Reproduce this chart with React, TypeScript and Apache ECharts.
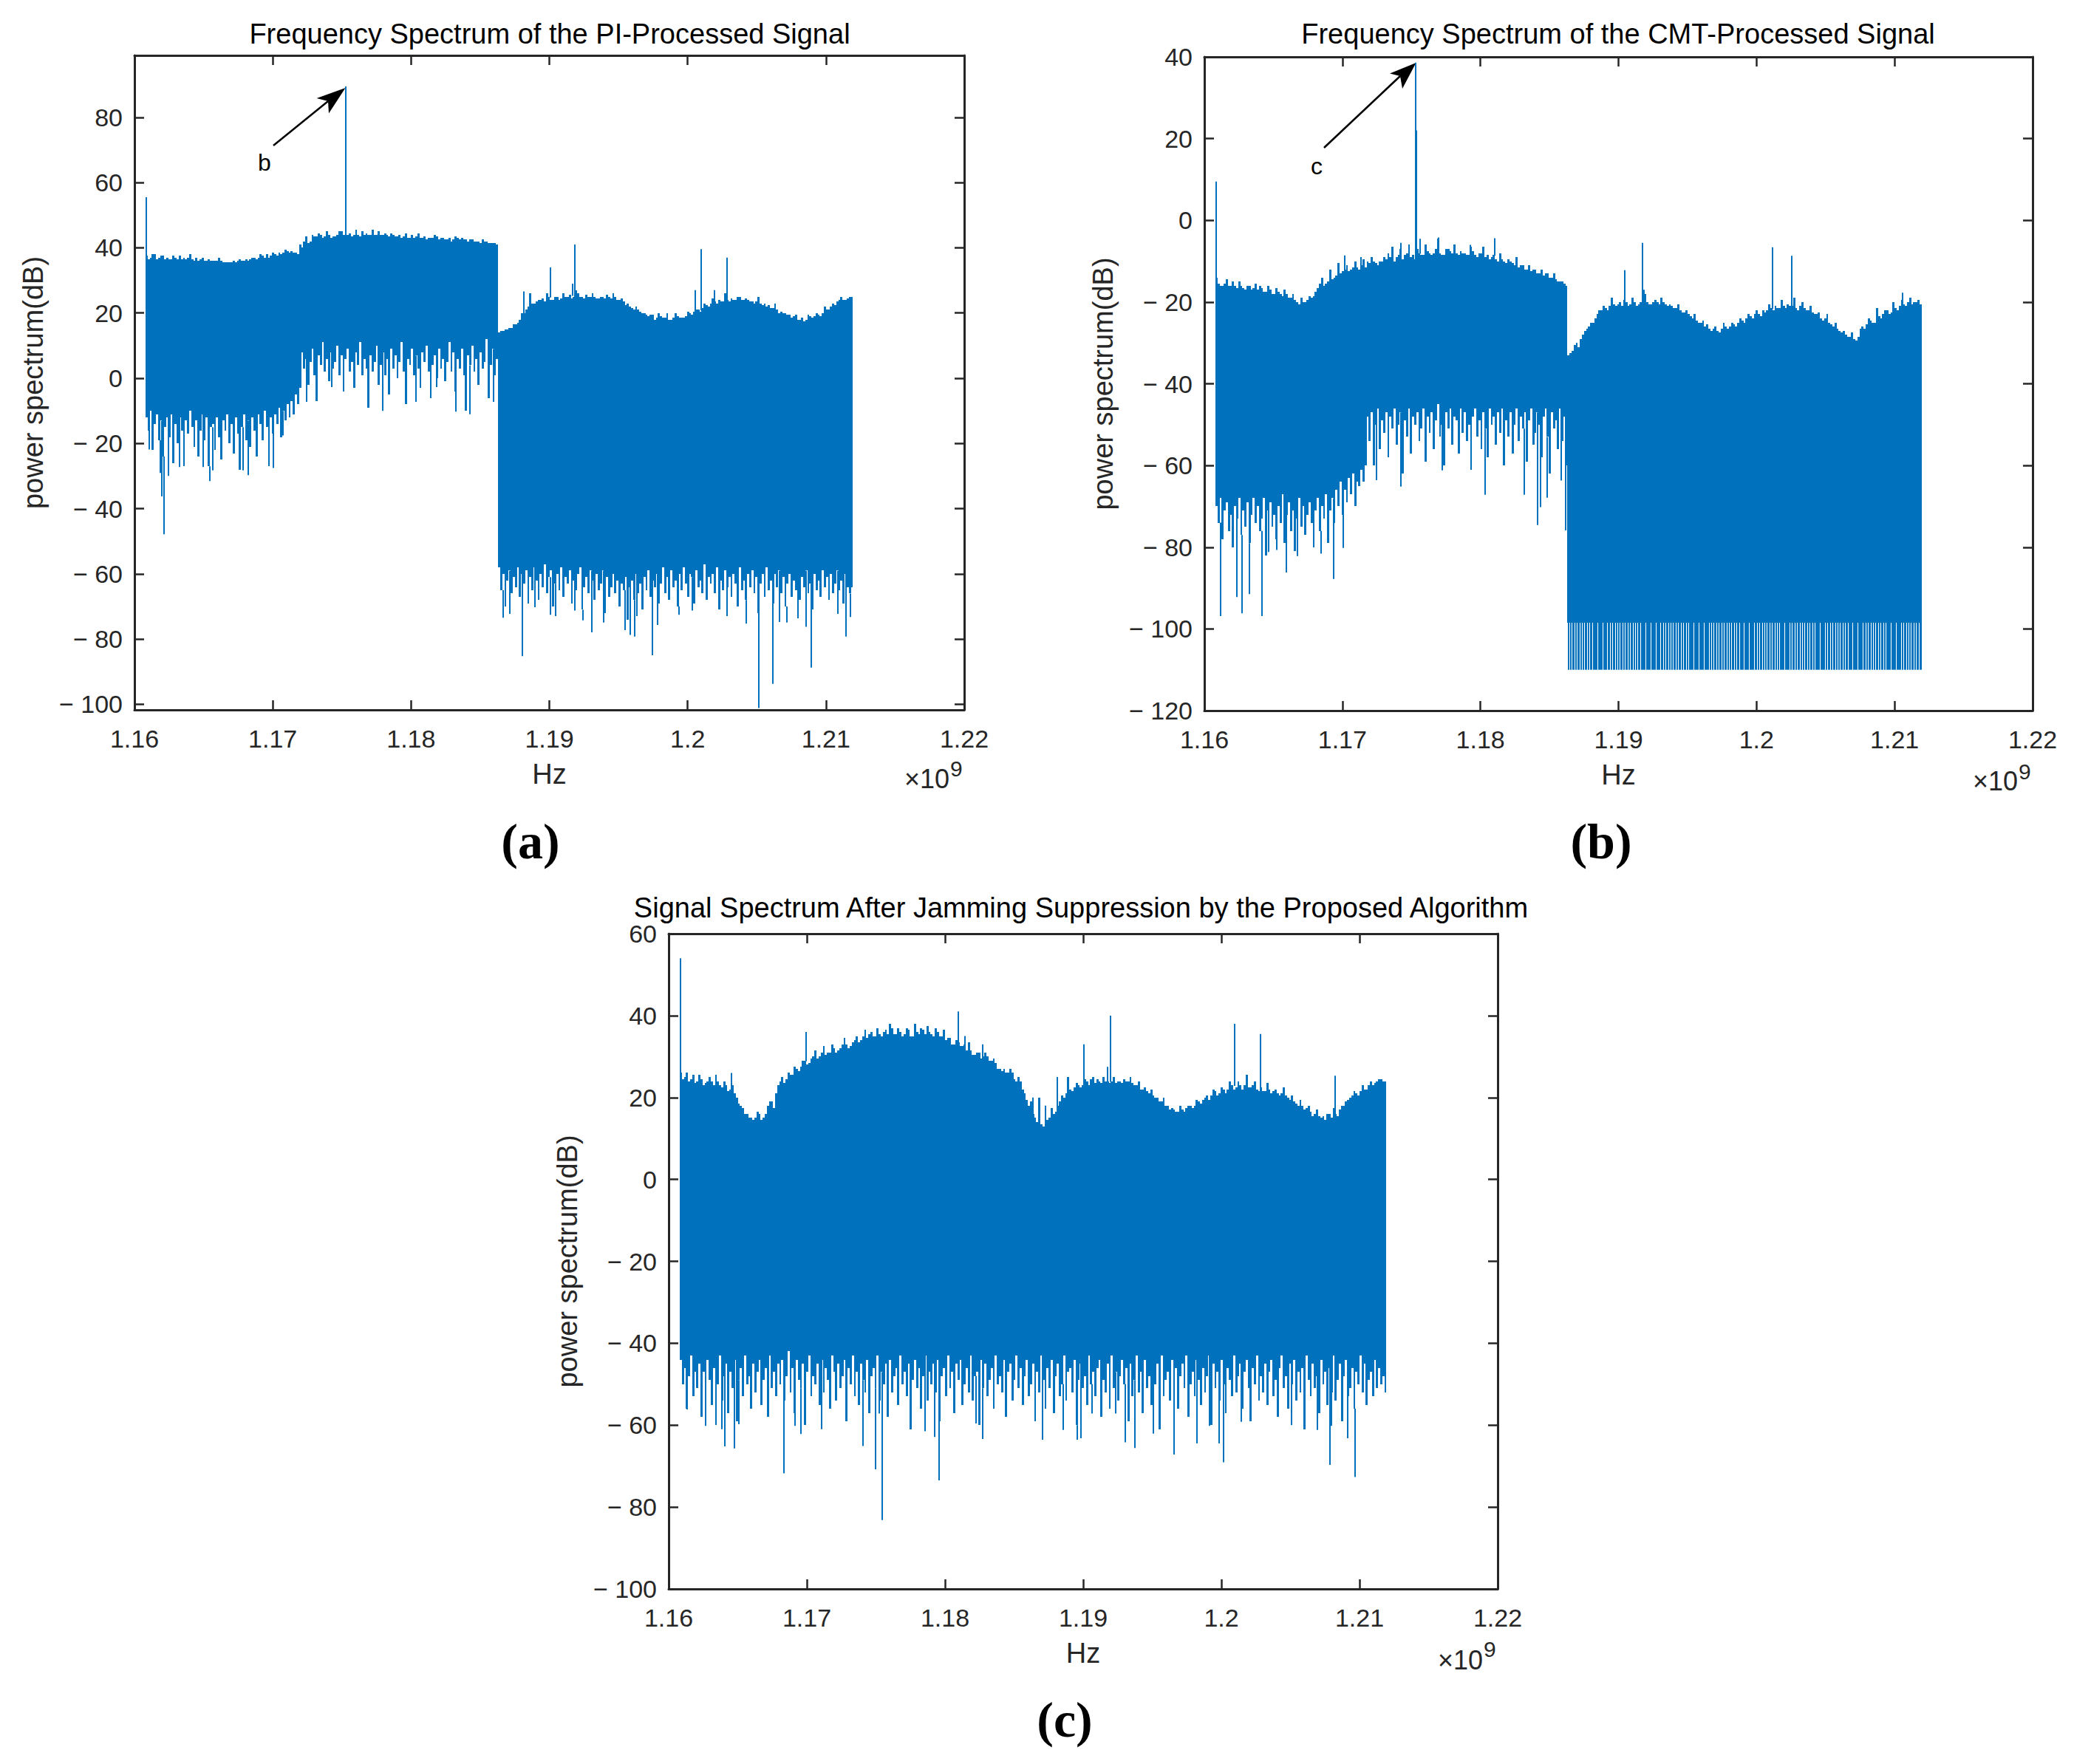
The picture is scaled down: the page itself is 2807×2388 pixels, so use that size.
import React, { useEffect, useRef } from "react";
import * as echarts from "echarts";

const BLUE = "#0072BD";
const INK = "#262626";
const SANS = "Liberation Sans";
const START = 1160.8; // MHz, left edge of the trace
const HI_STEP = 0.3;
const LO_STEP = 0.15;

const xTicks = [1.16e9, 1.17e9, 1.18e9, 1.19e9, 1.2e9, 1.21e9, 1.22e9];
const yTicksA = [-100, -80, -60, -40, -20, 0, 20, 40, 60, 80];
const yTicksB = [-120, -100, -80, -60, -40, -20, 0, 20, 40];
const yTicksC = [-100, -80, -60, -40, -20, 0, 20, 40, 60];

const hiA = [
  37.5,37,38,37,37.5,37,36.5,37,37.5,37,
  37,36.5,37,36.5,36,36.5,36,36,36,35.5,
  35.5,36,36,36,36.5,36.5,37,37,37.5,38,
  37.5,38,38.5,38.5,39,39,38.5,41,42,41.5,
  44,43.5,44,43.5,44,43.5,44,45,44,44.5,
  44,44,45,44.5,44,44,45,44,44,44.5,
  43.5,44,43.5,43,44,43.5,43,43.5,43,43,
  43.5,43,42.5,43,42.5,43,43,42.5,42.5,42,
  42,42.5,42,41.5,41.5,
  14,14.5,15,15.5,16.5,18,20,22,23,23.5,
  24,23.5,25,24,25,24.5,25,25.5,25,26,
  25,25.5,25,25,24.5,25,25.5,24.5,25,24,
  23.5,23,21.5,22,20.5,20,19,19.5,18.5,19,
  18.5,18,18.5,19,18.5,19,20,20.5,21,21.5,
  22.5,23,23.5,24,23.5,24,24.5,24,25,24,
  24,23.5,23.5,23,23,22.5,21.5,21,20.5,20,
  19.5,19,18,18.5,18,19,19,19.5,20,21,
  22,22.5,24,24,24.5,25,
];
const hiMidA = [
  36.5,38,36.5,37.5,36.5,36.5,37.5,36.5,36.5,36.5,
  38,36,36,37,36,36,36,37,35.5,35.5,
  35.5,35.5,36.5,36,36,37,36.5,38,37,37,
  38.5,37.5,38,39.5,38.5,38.5,38,40,43.5,42,
  43.5,44.5,43,45,43,43.5,45,44,44,43.5,
  45.5,43.5,44,44,45.5,44,44,44.5,43.5,44,
  43.5,43,44.5,43,43,44.5,43,42.5,43,44,
  42.5,43,42.5,42,43.5,42.5,42.5,42,42.5,42,
  41.5,42,41.5,41.5,41,
  14.5,15,15.5,16.5,17,20,21,26,23,24,
  24.5,26,24,25,24,26,25,24.5,27,25,
  24.5,25,26,24.5,25,24.5,25,26,24,24.5,
  22.5,22,21,21,20,19.5,19.5,18,20,18.5,
  20,18,20,18.5,18.5,20.5,19.5,21,20.5,23,
  22,24.5,23,23.5,26,23.5,24,25,24,24.5,
  23.5,23,25,22.5,22,21.5,23,20,20,19.5,
  18.5,19.5,18,17.5,19.5,18.5,20,19,22,21,
  23,23.5,25,24,25,
];
const loA = [
  -12,-16,-10,-22,-14,-11,-19,-13,-24,-15,
  -12,-18,-11,-26,-14,-20,-12,-16,-27,-13,
  -17,-10,-15,-21,-13,-24,-16,-11,-19,-12,
  -27,-15,-14,-22,-12,-18,-25,-13,-16,-11,
  -20,-14,-23,-12,-17,-28,-15,-11,-19,-13,
  -21,-12,-16,-24,-11,-14,-19,-10,-15,-27,
  -12,-17,-11,-14,-9,-18,-10,-13,-8,-12,
  -7,-11,-5,-8,-3,
  8,3,6,-2,5,9,1,-7,7,4,
  11,2,6,-1,8,3,5,10,1,7,
  -4,6,9,2,5,-3,8,4,11,1,
  6,3,-9,7,2,5,10,-2,4,8,
  1,6,-5,9,3,7,0,5,11,2,
  -8,6,4,9,1,7,3,-3,8,5,
  10,2,-6,4,7,0,9,3,6,-1,
  5,11,2,8,-4,6,3,9,1,-10,
  7,4,10,2,6,-2,8,3,5,12,
  -6,4,9,1,6,
  -58,-65,-60,-70,-62,-59,-66,-61,-64,-58,
  -67,-60,-63,-59,-69,-61,-65,-58,-62,-68,
  -60,-64,-57,-66,-61,-59,-70,-63,-60,-65,
  -58,-67,-61,-63,-59,-69,-62,-65,-60,-58,
  -71,-64,-61,-66,-59,-62,-68,-60,-65,-63,
  -59,-72,-61,-67,-64,-60,-66,-62,-70,-63,
  -65,-61,-74,-64,-62,-68,-60,-66,-63,-71,
  -61,-65,-59,-67,-62,-64,-60,-69,-63,-58,
  -66,-61,-68,-59,-64,-62,-70,-60,-65,-58,
  -63,-67,-60,-61,-69,-59,-64,-62,-66,-57,
  -68,-61,-63,-60,-66,-58,-71,-62,-65,-59,
  -64,-61,-67,-60,-63,-70,-58,-65,-62,-68,
  -60,-64,-59,-66,-61,-72,-63,-60,-67,-58,
  -65,-62,-69,-60,-64,-59,-66,-61,-70,-63,
  -60,-67,-62,-65,-58,-68,-61,-64,-59,-66,
  -63,-71,-60,-65,-62,-67,-59,-64,-61,-68,
  -60,-66,-63,-59,-65,-62,-69,-60,-64,-66,-64,
];
const upSpikesA = [[1160.8,55.5],[1175.25,89.5],[1188.1,26.6],[1190,34],[1191.65,29],[1191.8,41],[1200.5,27],[1200.95,39.6],[1201.9,27],[1202.8,37]];
const downSpikesA = [
  [1161,-21.6],[1161.8,-28.8],[1161.9,-36],[1162.1,-47.6],[1162.4,-29.7],[1163.2,-27],[1164.9,-27],[1165.4,-31.3],[1165.6,-28],[1167.8,-28],[1168.2,-29.5],[1170,-27.3],[1170.7,-17.3],
  [1172.4,-7],[1173.1,-5.7],[1174.2,-2.5],[1177.9,-9.8],[1180.3,-7],[1181.8,-2.5],[1183.2,-10],[1184.2,-10.8],[1185.9,-7],
  [1186.6,-73.2],[1187.1,-72],[1188,-85],[1188.9,-70],[1190,-72.3],[1190.4,-72.7],[1191.8,-71],[1192.4,-74],[1193,-77.7],[1193.9,-74.7],[1195.4,-77],[1195.8,-78.5],[1196.1,-79],[1196.3,-72.7],[1197.4,-84.7],[1197.8,-75.4],[1199.3,-72.3],[1200.3,-71],[1202.8,-72.7],[1204.2,-75],[1205.1,-100.9],[1206.1,-93.5],[1206.6,-74.5],[1207.1,-74.7],[1207.9,-73.4],[1208.5,-76],[1208.9,-88.5],[1210.8,-72],[1211.4,-79],[1211.7,-73],
];

const hiB = [
  -14,-16,-15.5,-16,-15,-16.5,-16,-17,-16,-16.5,
  -17,-16.5,-17.5,-17,-18,-17.5,-18.5,-18,-19,-19.5,
  -20.5,-20,-19.5,-19,-17.5,-15.5,-16,-15,-14.5,-13.5,
  -13,-12,-12.5,-11.5,-11.5,-11,-11.5,-10.5,-10,-11,
  -10,-9.5,-9,-10,-8.5,-9.5,-8,-9,-9.5,-8,
  -8.5,-7.5,-8.5,-7,-8,-8.5,-7,-8,-8,-7.5,
  -8,-8.5,-7.5,-9,-8,-9,-9.5,-8.5,-10,-9.5,
  -10.5,-10,-11,-11.5,-11,-12,-12.5,-12,-13,-13.5,
  -13,-14,-14.5,-15,-15.5,
  -33,-32,-30,-29,-27,-26,-25,-23,-22,-21.5,
  -21,-20.5,-20.5,-21,-20,-20.5,-20,-20.5,-19.5,-20,
  -20.5,-19.5,-20.5,-20,-21,-21,-21.5,-22,-22.5,-23,
  -24,-24.5,-25,-26,-26.5,-26.5,-27,-26.5,-26,-26,
  -25.5,-25,-24.5,-24,-23.5,-23,-23,-22,-22,-21.5,
  -21,-21.5,-21,-20.5,-21,-21.5,-21,-21.5,-22,-22.5,
  -23,-24,-24,-25,-26,-26.5,-27.5,-28,-28.5,-29,
  -28.5,-26,-25.5,-24.5,-25,-23.5,-23,-22,-22.5,-21.5,
  -21,-20.5,-20,-20.5,-20,-20.5,
];
const hiMidB = [
  -15.5,-16,-14.5,-16,-16,-15,-16.5,-16,-17,-15.5,
  -16,-17.5,-16,-18,-16.5,-18,-17,-19,-18,-20,
  -19,-20,-18.5,-18.5,-16.5,-14,-15.5,-12,-14,-10.5,
  -12.5,-11,-12,-10,-12,-9.5,-10,-9,-10.5,-10,
  -9,-8,-6.5,-9,-7,-8.5,-6,-8.5,-7,-8.5,
  -6,-8,-8,-4.5,-8.5,-7,-7.5,-6,-8.5,-8,
  -8.5,-6.5,-8.5,-8,-6.5,-8.5,-9,-9.5,-8,-10,
  -9.5,-10.5,-9,-11,-12,-11,-12,-13,-12,-13,
  -14,-13,-15,-15,-16,
  -32.5,-30.5,-31,-28,-26.5,-25,-24,-22,-21,-22,
  -19,-21,-20,-19.5,-21,-19,-21,-20,-18,-20.5,
  -20,-20,-19,-20.5,-20.5,-21.5,-20.5,-22.5,-22,-23.5,
  -23,-25,-24.5,-25.5,-27,-26,-27.5,-25,-26.5,-25,
  -26,-24,-25,-23,-24,-22,-23.5,-22.5,-20.5,-22,
  -21.5,-19.5,-21.5,-21,-19,-22,-20,-22,-21,-23,
  -22.5,-24.5,-23,-25.5,-25,-27,-27,-28.5,-27.5,-29.5,
  -26.5,-26.5,-24,-25,-21.5,-24,-22,-23,-20,-22,
  -19.5,-21,-19,-20,-19.5,
];
const loBLeft = [
  -70,-74,-68,-78,-71,-69,-76,-72,-80,-70,
  -73,-68,-77,-71,-75,-69,-79,-72,-68,-74,
  -70,-76,-73,-68,-82,-71,-69,-75,-72,-78,
  -70,-74,-67,-79,-72,-69,-76,-71,-81,-73,
  -68,-75,-70,-77,-72,-69,-74,-80,-71,-68,
  -76,-70,-73,-67,-79,-71,-68,-74,-66,-70,
  -64,-72,-66,-69,-63,-67,-62,-70,-64,-65,
  -61,-64,-60,
  -48,-54,-47,-60,-50,-46,-56,-49,-52,-47,
  -58,-48,-51,-46,-55,-50,-47,-62,-49,-53,
  -46,-57,-48,-50,-47,-54,-51,-46,-59,-48,
  -52,-47,-56,-49,-45,-53,-50,-60,-47,-51,
  -46,-55,-48,-49,-57,-46,-52,-47,-54,-50,
  -61,-48,-46,-53,-49,-56,-47,-51,-58,-46,
  -50,-48,-55,-47,-52,-46,-60,-49,-53,-47,
  -57,-50,-46,-54,-48,-51,-47,-59,-49,-46,
  -55,-52,-47,-50,-58,-48,-46,-53,-62,-47,
  -51,-49,-56,-46,-54,-48,-60,
];
const combTop = -98.5;
const combFloor = -110;
const combGaps = [1186.32,1186.50,1186.68,1186.87,1187.05,1187.23,1187.41,1187.59,1187.78,1187.96,1188.14,1188.51,1188.88,1189.25,1189.43,1189.62,1189.80,1189.98,1190.16,1190.35,1190.53,1190.71,1190.89,1191.08,1191.26,1191.44,1191.62,1191.99,1192.36,1192.73,1193.10,1193.28,1193.47,1193.65,1193.83,1194.01,1194.20,1194.38,1194.56,1194.74,1194.93,1195.11,1195.48,1195.85,1196.22,1196.59,1196.77,1196.95,1197.14,1197.32,1197.50,1197.68,1197.87,1198.05,1198.23,1198.41,1198.60,1198.78,1199.15,1199.52,1199.89,1200.07,1200.25,1200.44,1200.62,1200.80,1200.98,1201.17,1201.35,1201.53,1201.71,1202.08,1202.45,1202.63,1202.81,1203.00,1203.18,1203.36,1203.54,1203.73,1203.91,1204.09,1204.27,1204.64,1205.01,1205.19,1205.38,1205.56,1205.74,1205.92,1206.11,1206.29,1206.47,1206.65,1207.02,1207.39,1207.76,1207.94,1208.13,1208.31,1208.49,1208.67,1208.86,1209.04,1209.22,1209.40,1209.77,1210.14,1210.51,1210.69,1210.88,1211.06,1211.24,1211.42,1211.61,1211.79,1212.0];
const upSpikesB = [[1160.8,9.5],[1170.1,-8.6],[1171.3,-9],[1174.2,-5.5],[1175.25,38.6],[1175.3,22],[1175.55,-4.5],[1176.9,-4.2],[1179.2,-6],[1181,-4.4],[1190.4,-12.2],[1191.7,-5.5],[1191.8,-17],[1201.1,-6.6],[1202.5,-8.7],[1210.5,-17.7]];
const downSpikesB = [
  [1161.1,-96.7],[1162.3,-92],[1162.7,-96],[1163.2,-91.3],[1164.1,-96.7],[1164.6,-81],[1165.2,-80.5],[1165.9,-86],[1166.7,-82],[1168.4,-81.4],[1169.3,-87.6],[1170,-80],
  [1172.4,-63.4],[1174.2,-65],[1177.2,-61],[1180.3,-67],[1183.1,-67],[1184.1,-74.4],[1184.3,-70],[1184.8,-67.7],[1185.8,-63.5],[1186.1,-75.7],
];

const hiC = [
  26,25,24,25.5,24,24.5,23.5,25,23,24,
  22.5,23,22,21,18.5,17.5,16,15,15,16,
  15,18,19,21,24,23.5,26,25.5,27,27.5,
  29,28.5,30,29.5,31,30.5,31,32,31.5,33,
  33,32.5,34,33.5,35,34.5,36,35,35.5,36,
  35.5,37,35.5,36,35.5,36.5,35,36,37,35.5,
  36,35,36,35,34,34.5,33,33.5,32.5,31.5,
  31.5,30.5,31,30,30,29,28.5,27,27,26,
  26,24,24,21,18,16,14,13.5,14,15,
  16,18,20.5,21,22,22.5,23,23,24,24.5,
  23.5,24,25,24,24,23.5,24,24.5,24,23.5,
  23,22,22.5,21,20.5,20,19,18,17,17,
  16.5,17,17.5,18,18,19,19.5,20.5,20.5,21.5,
  21,22,22,23,22.5,23,23,22.5,23,22,
  22.5,21.5,22,21.5,21,21,20.5,19.5,19,18,
  18,17.5,16.5,16,15.5,15.5,16,15,16,17,
  18,19.5,20.5,21,21.5,22,23,23,24,24.5,
  24,
];
const hiMidC = [
  24.5,26,24.5,23.5,25.5,23,24,24,25.5,23,
  24,21.5,23,20,18,16,15,14.5,16.5,14.5,
  16,19,17.5,23,25,24.5,25.5,27.5,26.5,29,
  28,29.5,31.5,30,32.5,31,33,31,32,34.5,
  32,33.5,35,34,36.5,35.5,35,37,35,36.5,
  38,35.5,37,35,37,35,38,35.5,36.5,37.5,
  35.5,37,35,36.5,34.5,33,34,32.5,33,33.5,
  30.5,31,29.5,31,29,29.5,27,26.5,26,27,
  24.5,25,22,19.5,19,15,20,13,14.5,17.5,
  16.5,19,20,25,21.5,23.5,22.5,24.5,23,25,
  24.5,23.5,24,23.5,25,24,23.5,24,25,23,
  24,22,21.5,22,20,19,20,18,17.5,16.5,
  18,16.5,18,17.5,19.5,18.5,20,19.5,22,20.5,
  22.5,21,24,22,24,22,25.5,22.5,24,21.5,
  21.5,23.5,21,22,20.5,22.5,20,20.5,18.5,19.5,
  17,18,15.5,17,15,14.5,16,17.5,15.5,18,
  19,20,21.5,20.5,23,22,24,23.5,24.5,24,
];
const loC = [
  -44,-50,-46,-56,-48,-43,-53,-47,-51,-45,
  -58,-47,-52,-44,-49,-55,-46,-60,-50,-43,
  -54,-48,-45,-57,-47,-51,-44,-59,-49,-46,
  -53,-43,-50,-48,-56,-45,-52,-47,-44,-55,
  -49,-46,-58,-43,-51,-47,-53,-45,-50,-44,
  -54,-48,-42,-52,-46,-57,-44,-49,-51,-45,
  -60,-47,-43,-53,-48,-50,-45,-55,-44,-52,
  -46,-49,-56,-43,-47,-54,-45,-51,-48,-44,
  -59,-46,-50,-43,-53,-47,-55,-45,-49,-52,
  -44,-57,-48,-46,-51,-43,-54,-47,-50,-45,
  -58,-44,-52,-48,-46,-55,-43,-50,-47,-53,
  -45,-61,-49,-44,-51,-46,-56,-48,-43,-54,
  -47,-50,-45,-52,-44,-59,-48,-46,-53,-43,
  -51,-47,-57,-45,-49,-44,-55,-50,-46,-52,
  -43,-54,-48,-47,-60,-44,-51,-45,-53,-49,
  -46,-56,-43,-50,-48,-52,-44,-58,-47,-45,
  -54,-49,-43,-51,-46,-55,-48,-44,-53,-50,
  -45,-59,-47,-52,-43,-49,-56,-46,-51,-44,
  -57,-48,-45,-53,-50,-43,-54,-47,-46,-52,
  -44,-60,-49,-45,-51,-48,-55,-43,-50,-47,
  -53,-46,-44,-58,-49,-52,-45,-56,-43,-51,
  -47,-54,-48,-44,-50,-46,-59,-45,-53,-49,
  -43,-52,-47,-57,-44,-51,-48,-55,-46,-50,
  -45,-61,-43,-53,-49,-47,-54,-44,-52,-46,
  -56,-48,-45,-51,-43,-58,-50,-47,-53,-44,
  -49,-55,-46,-52,-48,-43,-60,-45,-51,-47,
  -54,-44,-50,-57,-46,-49,-53,-43,-52,-48,
  -45,-56,-47,-44,-51,-59,-46,-50,-43,-54,
  -48,-52,-45,-55,-47,-44,-53,-49,-58,-46,
  -43,-51,-48,-56,-45,-50,-44,-54,-47,-52,
  -46,-61,-43,-49,-53,-45,-51,-48,-57,-44,
  -50,-47,-55,-46,-52,-43,-54,-49,-45,-59,
  -48,-44,-53,-51,-46,-56,-47,-50,-43,-52,
  -45,-55,-49,-47,-53,-44,-51,-46,-50,-48,
  -52,
];
const upSpikesC = [[1160.8,54],[1164.5,26],[1169.9,36],[1180.9,41],[1181.4,35],[1182.7,33],[1186.3,20],[1187.2,18],[1188.1,25],[1190,33],[1191.7,27.5],[1191.9,40],[1200.9,38],[1202.8,35.5],[1208.2,25.3]];
const downSpikesC = [
  [1161.3,-56],[1162.6,-60],[1163.8,-60.8],[1164,-65],[1164.7,-65.5],[1165,-59.6],[1168.3,-71.6],[1169.1,-60],[1169.5,-62],[1171,-60.8],[1174,-64.9],[1174.9,-70.6],[1175.2,-57],[1175.4,-83],[1178.5,-61.3],[1179.2,-62.7],[1179.5,-73.3],[1182.2,-59.4],[1182.7,-63.2],[1187,-63.4],[1188.5,-61],[1189.5,-63.4],[1189.8,-63],[1190.6,-57],[1192.3,-57],[1193,-64],[1193.7,-65.4],[1195,-61.9],[1196.5,-67],[1198.2,-64.3],[1199.1,-60],[1199.8,-64.3],[1200.1,-68.9],[1201.4,-59],[1205,-59.8],[1206.9,-61],[1207.8,-69.5],[1207.9,-60],[1209.1,-63],[1209.6,-72.5],
];

function hiAt(hi: number[], f: number) {
  return hi[Math.min(hi.length - 1, Math.max(0, Math.floor((f - START) / HI_STEP)))];
}
function loAt(lo: number[], f: number) {
  return lo[Math.min(lo.length - 1, Math.max(0, Math.floor((f - START) / LO_STEP)))];
}
function bodyRows(hi: number[], hiMid: number[], lo: number[]) {
  return lo.map((v, j) => {
    const i = Math.floor(j / 2);
    const top = j % 2 === 0 ? hi[Math.min(hi.length - 1, i)] : hiMid[Math.min(hiMid.length - 1, i)];
    return [(START + j * LO_STEP) * 1e6, top, v];
  });
}
function spikeRows(hi: number[], lo: number[], up: number[][], down: number[][]) {
  return [
    ...up.map(([f, v]) => [f * 1e6, v, hiAt(hi, f)]),
    ...down.map(([f, v]) => [f * 1e6, v, loAt(lo, f)]),
  ];
}

const renderColumn = (_: any, api: any) => {
  const a = api.coord([api.value(0), api.value(1)]);
  const b = api.coord([api.value(0) + LO_STEP * 1e6, api.value(2)]);
  const x0 = Math.round(a[0]);
  const x1 = Math.round(b[0]);
  const y0 = Math.round(a[1]);
  const y1 = Math.round(b[1]);
  return { type: "rect", shape: { x: x0, y: y0, width: x1 - x0, height: y1 - y0 }, style: { fill: BLUE } };
};
const renderSpike = (_: any, api: any) => {
  const a = api.coord([api.value(0), api.value(1)]);
  const b = api.coord([api.value(0), api.value(2)]);
  const x = Math.round(a[0]);
  const top = Math.min(a[1], b[1]);
  return { type: "rect", shape: { x, y: top, width: 2, height: Math.abs(a[1] - b[1]) + 1 }, style: { fill: BLUE } };
};
const renderTooth = (_: any, api: any) => {
  const a = api.coord([api.value(0), combTop]);
  const b = api.coord([api.value(1), combFloor]);
  const x0 = Math.round(a[0]);
  const x1 = Math.round(b[0]) - 1;
  return { type: "rect", shape: { x: x0, y: a[1] - 1, width: x1 - x0, height: b[1] - a[1] + 1 }, style: { fill: BLUE } };
};

const grids = [
  { left: 182, top: 75, width: 1123, height: 886 },
  { left: 1630, top: 77, width: 1121, height: 885 },
  { left: 905, top: 1264, width: 1122, height: 887 },
];
const yRanges = [
  { min: -101.7, max: 99, ticks: yTicksA },
  { min: -120, max: 40, ticks: yTicksB },
  { min: -100, max: 60, ticks: yTicksC },
];
const titles = [
  { text: "Frequency Spectrum of the PI-Processed Signal", x: 744, y: 46 },
  { text: "Frequency Spectrum of the CMT-Processed Signal", x: 2190, y: 46 },
  { text: "Signal Spectrum After Jamming Suppression by the Proposed Algorithm", x: 1463, y: 1229 },
];
const panelLabels = [
  { text: "(a)", x: 718, y: 1139 },
  { text: "(b)", x: 2167, y: 1139 },
  { text: "(c)", x: 1441, y: 2328 },
];
const scaleLabels = [
  { x10: 1285, y10: 1054, x9: 1286, y9: 1040 },
  { x10: 2731, y10: 1057, x9: 2732, y9: 1044 },
  { x10: 2007, y10: 2247, x9: 2008, y9: 2232 },
];
const arrows = [
  { from: [370, 197], tip: [467.5, 119], w1: [428.6, 133], w2: [445, 153.6], notch: [444, 137], label: "b", lx: 358, ly: 220 },
  { from: [1792, 200], tip: [1916.5, 85], w1: [1881, 99.5], w2: [1898, 120], notch: [1895, 103], label: "c", lx: 1782, ly: 225 },
];

const fmtX = (v: number) => String(Number((v / 1e9).toFixed(2)));
const fmtY = (v: number) => (v < 0 ? "\u2212 " + Math.abs(v) : String(v));

function buildOption() {
  const xAxis: any[] = [];
  const yAxis: any[] = [];
  grids.forEach((_, g) => {
    const line = { onZero: false, lineStyle: { color: INK, width: 3 } };
    const tick = { inside: true, length: 13, lineStyle: { color: INK, width: 2.5 } };
    const xBase = { type: "value", gridIndex: g, min: xTicks[0], max: xTicks[xTicks.length - 1], interval: 1e7, splitLine: { show: false }, axisLine: { show: true, ...line }, axisTick: { show: true, ...tick } };
    xAxis.push({
      ...xBase, position: "bottom", name: "Hz", nameLocation: "middle", nameGap: 68,
      nameTextStyle: { color: INK, fontFamily: SANS, fontSize: 38 },
      axisLabel: { color: INK, fontFamily: SANS, fontSize: 34, margin: 22, formatter: fmtX },
    });
    xAxis.push({ ...xBase, position: "top", axisLabel: { show: false } });
    const r = yRanges[g];
    const yBase = { type: "value", gridIndex: g, min: r.min, max: r.max, splitLine: { show: false }, axisLine: { show: true, ...line } };
    yAxis.push({
      ...yBase, position: "left", name: "power spectrum(dB)", nameLocation: "middle", nameGap: 118, nameRotate: 90,
      nameTextStyle: { color: INK, fontFamily: SANS, fontSize: 38 },
      axisTick: { show: true, ...tick, customValues: r.ticks },
      axisLabel: { color: INK, fontFamily: SANS, fontSize: 34, margin: 16, customValues: r.ticks, formatter: fmtY },
    });
    yAxis.push({ ...yBase, position: "right", axisLabel: { show: false }, axisTick: { show: true, ...tick, customValues: r.ticks } });
  });

  const loB = [...loBLeft, ...new Array(hiB.length * 2 - 1 - loBLeft.length).fill(combTop)];
  const panels = [
    { hi: hiA, mid: hiMidA, lo: loA, up: upSpikesA, down: downSpikesA },
    { hi: hiB, mid: hiMidB, lo: loB, up: upSpikesB, down: downSpikesB },
    { hi: hiC, mid: hiMidC, lo: loC, up: upSpikesC, down: downSpikesC },
  ];
  const series: any[] = [];
  panels.forEach((p, g) => {
    const ax = { xAxisIndex: g * 2, yAxisIndex: g * 2, silent: true };
    series.push({ type: "custom", ...ax, name: "spectrum " + g, renderItem: renderColumn, data: bodyRows(p.hi, p.mid, p.lo), encode: { x: 0, y: 1 } });
    series.push({ type: "custom", ...ax, name: "spikes " + g, renderItem: renderSpike, data: spikeRows(p.hi, p.lo, p.up, p.down), encode: { x: 0, y: 1 } });
  });
  series.push({
    type: "custom", xAxisIndex: 2, yAxisIndex: 2, silent: true, name: "comb", renderItem: renderTooth,
    data: combGaps.slice(0, -1).map((f, i) => [f * 1e6, combGaps[i + 1] * 1e6]), encode: { x: [0, 1] },
  });

  const graphic: any[] = [];
  panelLabels.forEach((l) => graphic.push({ type: "text", x: l.x, y: l.y, style: { text: l.text, fill: "#000", font: 'bold 68px "Liberation Serif"', align: "center", verticalAlign: "middle" } }));
  scaleLabels.forEach((s) => {
    graphic.push({ type: "text", x: s.x10, y: s.y10, style: { text: "\u00d710", fill: INK, font: `36px "${SANS}"`, align: "right", verticalAlign: "middle" } });
    graphic.push({ type: "text", x: s.x9, y: s.y9, style: { text: "9", fill: INK, font: `30px "${SANS}"`, align: "left", verticalAlign: "middle" } });
  });
  arrows.forEach((a) => {
    graphic.push({ type: "line", shape: { x1: a.from[0], y1: a.from[1], x2: a.notch[0], y2: a.notch[1] }, style: { stroke: "#000", lineWidth: 2.5 } });
    graphic.push({ type: "polygon", shape: { points: [a.tip, a.w1, a.notch, a.w2] }, style: { fill: "#000" } });
    graphic.push({ type: "text", x: a.lx, y: a.ly, style: { text: a.label, fill: "#000", font: `32px "${SANS}"`, align: "center", verticalAlign: "middle" } });
  });

  return {
    animation: false,
    backgroundColor: "#fff",
    grid: grids.map((g) => ({ ...g, containLabel: false })),
    title: titles.map((t) => ({
      text: t.text, left: t.x, top: t.y, textAlign: "center", textVerticalAlign: "middle", padding: 0,
      textStyle: { color: "#000", fontFamily: SANS, fontSize: 38, fontWeight: "normal" },
    })),
    xAxis, yAxis, series, graphic,
  };
}

export default function App() {
  const ref = useRef<HTMLDivElement>(null);
  useEffect(() => {
    const chart = echarts.init(ref.current!, undefined, { renderer: "svg" });
    chart.setOption(buildOption() as any);
    return () => chart.dispose();
  }, []);
  return <div ref={ref} style={{ position: "absolute", left: 0, top: 0, width: 2807, height: 2388 }} />;
}
